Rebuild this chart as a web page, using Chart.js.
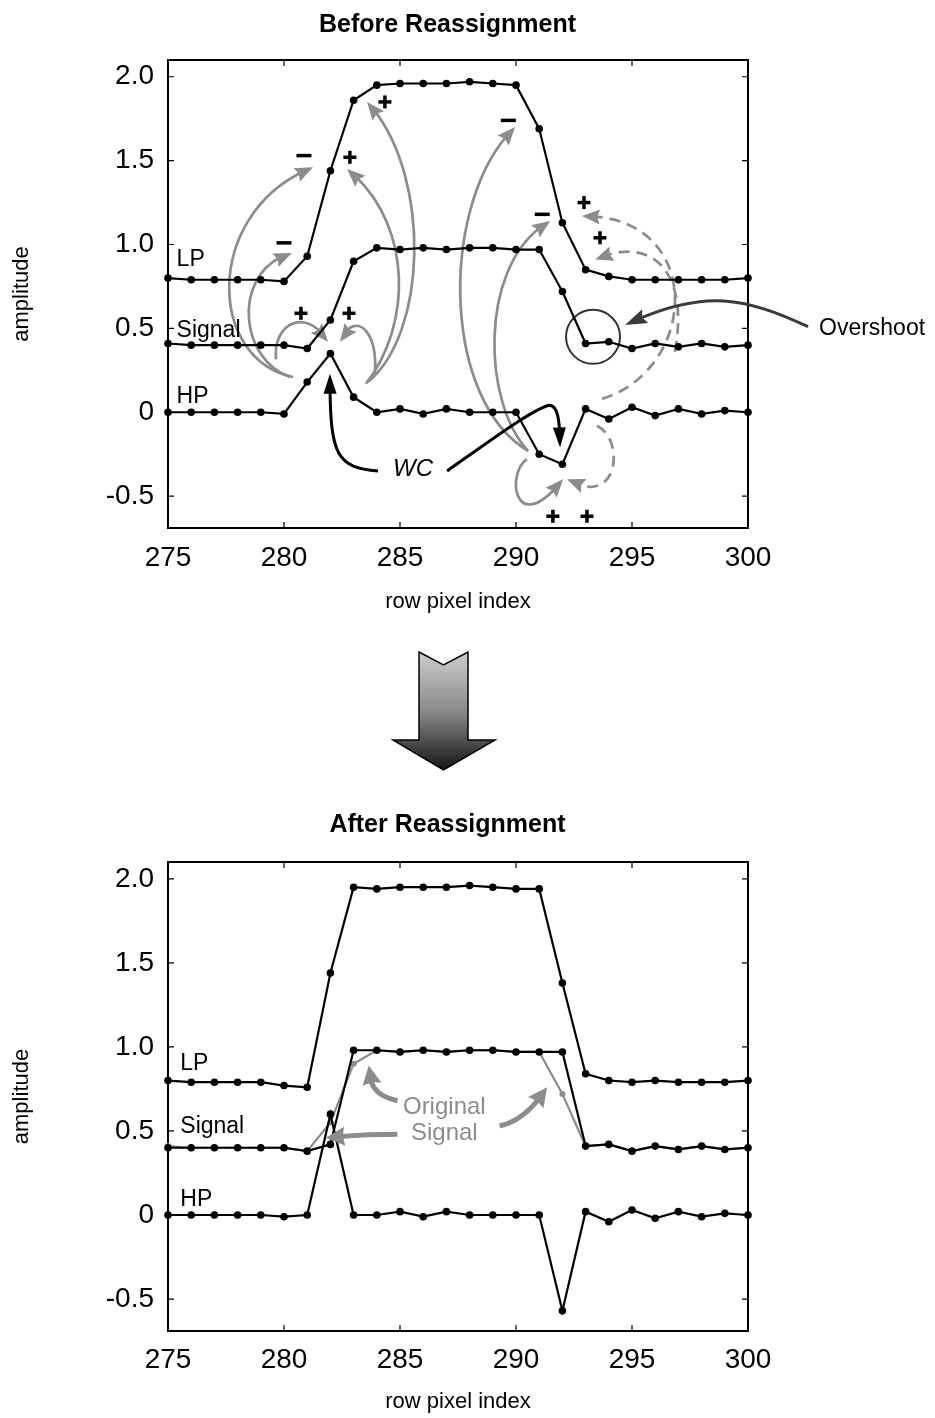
<!DOCTYPE html>
<html>
<head>
<meta charset="utf-8">
<script src="https://cdn.jsdelivr.net/npm/chart.js@4.4.1/dist/chart.umd.min.js"></script>
<style>
  body { margin: 0; background: #fff; }
  #wrap { position: relative; width: 935px; height: 1418px; }
  canvas { position: absolute; left: 0; }
</style>
</head>
<body>
<div id="wrap">
  <canvas id="before" width="935" height="640" style="top:0"></canvas>
  <canvas id="bigArrow" width="935" height="160" style="top:640px"></canvas>
  <canvas id="after" width="935" height="618" style="top:800px"></canvas>
</div>
<script>
// ---- data ----
const rowIndex = [275, 276, 277, 278, 279, 280, 281, 282, 283, 284, 285, 286, 287,
  288, 289, 290, 291, 292, 293, 294, 295, 296, 297, 298, 299, 300];

const beforeLP = [0.80, 0.79, 0.79, 0.79, 0.79, 0.78, 0.93, 1.44, 1.86, 1.95, 1.96, 1.96, 1.96,
  1.97, 1.96, 1.95, 1.69, 1.13, 0.85, 0.81, 0.79, 0.79, 0.79, 0.79, 0.79, 0.80];
const beforeSignal = [0.41, 0.40, 0.40, 0.40, 0.40, 0.40, 0.38, 0.55, 0.90, 0.98, 0.97, 0.98, 0.97,
  0.98, 0.98, 0.97, 0.97, 0.72, 0.41, 0.42, 0.38, 0.41, 0.39, 0.41, 0.39, 0.40];
const beforeHP = [0, 0, 0, 0, 0, -0.01, 0.18, 0.35, 0.09, 0, 0.02, -0.01, 0.02,
  0, 0, 0, -0.25, -0.31, 0.02, -0.04, 0.03, -0.02, 0.02, -0.01, 0.01, 0];

const afterLP = [0.80, 0.79, 0.79, 0.79, 0.79, 0.77, 0.76, 1.44, 1.95, 1.94, 1.95, 1.95, 1.95,
  1.96, 1.95, 1.94, 1.94, 1.38, 0.84, 0.80, 0.79, 0.80, 0.79, 0.79, 0.79, 0.80];
const afterSignal = [0.40, 0.40, 0.40, 0.40, 0.40, 0.40, 0.38, 0.42, 0.98, 0.98, 0.97, 0.98, 0.97,
  0.98, 0.98, 0.97, 0.97, 0.97, 0.41, 0.42, 0.38, 0.41, 0.39, 0.41, 0.39, 0.40];
const afterHP = [0, 0, 0, 0, 0, -0.01, 0, 0.60, 0, 0, 0.02, -0.01, 0.02,
  0, 0, 0, 0, -0.57, 0.02, -0.04, 0.03, -0.02, 0.02, -0.01, 0.01, 0];
const originalSignal = beforeSignal;

const xTicks = [275, 280, 285, 290, 295, 300];
const yTicks = [-0.5, 0, 0.5, 1, 1.5, 2];
const yTickLabels = ['-0.5', '0', '0.5', '1.0', '1.5', '2.0'];
const seriesNames = ['LP', 'Signal', 'HP'];

// ---- annotation geometry (data units: row index, amplitude) ----
const beforeLabelPos = [[275.37, 0.92], [275.37, 0.50], [275.37, 0.105]];
const afterLabelPos = [[275.53, 0.914], [275.53, 0.534], [275.53, 0.104]];

const grayArrows = [
  [[280.39, 0.21], [276.59, 0.32], [276.59, 1.21], [281.25, 1.46]],
  [[280.26, 0.21], [278.00, 0.32], [277.75, 0.85], [280.34, 0.95]],
  [[279.66, 0.315], [279.48, 0.52], [280.91, 0.64], [281.90, 0.42]],
  [[283.92, 0.23], [284.05, 0.52], [282.93, 0.60], [282.41, 0.42]],
  [[283.53, 0.17], [285.65, 0.55], [285.43, 1.15], [282.72, 1.45]],
  [[283.62, 0.18], [286.29, 0.49], [286.29, 1.45], [283.58, 1.85]],
  [[290.52, -0.23], [286.72, 0.08], [286.72, 1.27], [289.96, 1.70]],
  [[290.52, -0.23], [288.45, 0.08], [288.45, 0.91], [291.47, 1.14]],
  [[290.47, -0.28], [289.53, -0.37], [289.96, -0.76], [292.03, -0.40]]
];
const dashedArrows = [
  [[293.71, 0.08], [297.93, 0.26], [298.15, 1.18], [292.84, 1.17]],
  [[296.85, 0.36], [297.50, 0.85], [295.78, 1.06], [293.41, 0.91]],
  [[293.49, -0.08], [294.70, -0.16], [294.48, -0.58], [292.20, -0.40]]
];
const wcArrows = [
  [[284.05, -0.35], [282.20, -0.33], [281.98, -0.25], [281.98, 0.23]],
  [[287.03, -0.35], [288.88, -0.17], [290.60, 0.006], [291.38, 0.04],
   [291.72, 0.05], [291.90, -0.01], [291.90, -0.21]]
];
const overshootArrow = [[302.59, 0.51], [299.66, 0.70], [297.93, 0.73], [294.70, 0.52]];
const overshootCircle = [293.32, 0.45];
const overshootText = [303.06, 0.51];
const wcText = [285.56, -0.33];
const plusMarks = [[284.35, 1.85], [282.84, 1.52], [280.73, 0.59], [282.80, 0.59],
  [292.93, 1.25], [293.62, 1.04], [291.59, -0.62], [293.06, -0.62]];
const minusMarks = [[280.86, 1.53], [280.00, 1.01], [289.67, 1.74], [291.13, 1.18]];

const thickArrows = [
  [[284.89, 0.68], [283.95, 0.71], [283.65, 0.77], [283.65, 0.89]],
  [[284.89, 0.48], [283.73, 0.48], [282.66, 0.47], [281.80, 0.46]],
  [[289.29, 0.53], [289.97, 0.55], [290.70, 0.62], [291.34, 0.76]]
];
const originalTextPos = [[286.91, 0.653], [286.91, 0.499]];

const FONT = '"Liberation Sans", Arial, Helvetica, sans-serif';
const GRAY = '#8c8c8c';

// ---- drawing helpers ----
function toPx(chart, p) {
  return [chart.scales.x.getPixelForValue(p[0]), chart.scales.y.getPixelForValue(p[1])];
}
function lerp(a, b, t) { return [a[0] + (b[0] - a[0]) * t, a[1] + (b[1] - a[1]) * t]; }
function cubicAt(a, b, c, d, t) {
  const u = 1 - t;
  return [u * u * u * a[0] + 3 * u * u * t * b[0] + 3 * u * t * t * c[0] + t * t * t * d[0],
          u * u * u * a[1] + 3 * u * u * t * b[1] + 3 * u * t * t * c[1] + t * t * t * d[1]];
}
function splitLeft(a, b, c, d, t) {
  const ab = lerp(a, b, t), bc = lerp(b, c, t), cd = lerp(c, d, t);
  const abc = lerp(ab, bc, t), bcd = lerp(bc, cd, t);
  return [a, ab, abc, lerp(abc, bcd, t)];
}
function dist(p, q) { return Math.hypot(p[0] - q[0], p[1] - q[1]); }
function tAtDist(a, b, c, d, len) {
  let t = 1;
  while (t > 0 && dist(cubicAt(a, b, c, d, t), d) < len) t -= 0.002;
  return t;
}

function drawHead(ctx, tip, from, len, w, color, notch) {
  const dx = tip[0] - from[0], dy = tip[1] - from[1];
  const L = Math.hypot(dx, dy) || 1;
  const ux = dx / L, uy = dy / L;
  const bx = tip[0] - ux * len, by = tip[1] - uy * len;
  ctx.setLineDash([]);
  ctx.fillStyle = color;
  ctx.beginPath();
  ctx.moveTo(tip[0], tip[1]);
  ctx.lineTo(bx - uy * w / 2, by + ux * w / 2);
  ctx.lineTo(bx + ux * len * notch, by + uy * len * notch);
  ctx.lineTo(bx + uy * w / 2, by - ux * w / 2);
  ctx.closePath();
  ctx.fill();
}

function drawArrow(chart, pts, st) {
  const ctx = chart.ctx;
  const p = pts.map((q) => toPx(chart, q));
  const n = (p.length - 1) / 3;
  ctx.save();
  ctx.strokeStyle = st.color;
  ctx.lineWidth = st.width;
  ctx.lineCap = 'butt';
  ctx.setLineDash(st.dash || []);
  ctx.beginPath();
  ctx.moveTo(p[0][0], p[0][1]);
  let headFrom = null, tip = null;
  for (let i = 0; i < n; i++) {
    let a = p[3 * i], b = p[3 * i + 1], c = p[3 * i + 2], d = p[3 * i + 3];
    if (i === n - 1 && st.head) {
      tip = d;
      headFrom = cubicAt(a, b, c, d, tAtDist(a, b, c, d, st.head));
      [a, b, c, d] = splitLeft(a, b, c, d, tAtDist(a, b, c, d, st.head * 0.6));
    }
    ctx.bezierCurveTo(b[0], b[1], c[0], c[1], d[0], d[1]);
  }
  ctx.stroke();
  if (st.head) drawHead(ctx, tip, headFrom, st.head, st.headW, st.color, st.notch || 0);
  ctx.restore();
}

function drawText(chart, text, pos, size, opts) {
  const ctx = chart.ctx;
  const [x, y] = toPx(chart, pos);
  ctx.save();
  ctx.font = (opts.style || '') + ' ' + size + 'px ' + FONT;
  ctx.textAlign = opts.align || 'left';
  ctx.textBaseline = 'alphabetic';
  ctx.fillStyle = opts.color || '#000';
  ctx.fillText(text, x, y + 0.358 * size);
  ctx.restore();
}

function drawSign(chart, pos, plus) {
  const ctx = chart.ctx;
  const [x, y] = toPx(chart, pos);
  ctx.save();
  ctx.fillStyle = '#000';
  if (plus) {
    ctx.fillRect(x - 6.5, y - 1.75, 13, 3.5);
    ctx.fillRect(x - 1.75, y - 6.5, 3.5, 13);
  } else {
    ctx.fillRect(x - 7.5, y - 1.75, 15, 3.5);
  }
  ctx.restore();
}

const framePlugin = {
  id: 'frame',
  beforeDatasetsDraw(chart) {
    const { ctx, chartArea: a, scales } = chart;
    ctx.save();
    ctx.strokeStyle = '#000';
    ctx.lineWidth = 1.2;
    ctx.beginPath();
    xTicks.forEach((v) => {
      const px = scales.x.getPixelForValue(v);
      ctx.moveTo(px, a.bottom); ctx.lineTo(px, a.bottom - 6);
      ctx.moveTo(px, a.top); ctx.lineTo(px, a.top + 6);
    });
    yTicks.forEach((v) => {
      const py = scales.y.getPixelForValue(v);
      ctx.moveTo(a.left, py); ctx.lineTo(a.left + 6, py);
      ctx.moveTo(a.right, py); ctx.lineTo(a.right - 6, py);
    });
    ctx.stroke();
    ctx.lineWidth = 2;
    ctx.strokeRect(a.left, a.top, a.right - a.left, a.bottom - a.top);
    ctx.restore();
  }
};

function titlePlugin(text, baseline) {
  return {
    id: 'figTitle',
    afterDraw(chart) {
      const ctx = chart.ctx;
      ctx.save();
      ctx.font = 'bold 25px ' + FONT;
      ctx.textAlign = 'center';
      ctx.fillStyle = '#000';
      ctx.fillText(text, 447.5, baseline);
      ctx.restore();
    }
  };
}

const beforeNotes = {
  id: 'beforeNotes',
  beforeDatasetsDraw(chart) {
    grayArrows.forEach((a) => drawArrow(chart, a, { color: GRAY, width: 2.7, head: 18, headW: 15, notch: 0.15 }));
    dashedArrows.forEach((a) => drawArrow(chart, a, { color: GRAY, width: 2.7, dash: [11, 7], head: 18, headW: 15, notch: 0.15 }));
    wcArrows.forEach((a) => drawArrow(chart, a, { color: '#000', width: 3, head: 20, headW: 13, notch: 0 }));
    drawArrow(chart, overshootArrow, { color: '#3a3a3a', width: 3, head: 22, headW: 15, notch: 0.15 });
    const ctx = chart.ctx;
    const [cx, cy] = toPx(chart, overshootCircle);
    ctx.save();
    ctx.strokeStyle = '#333';
    ctx.lineWidth = 2;
    ctx.beginPath();
    ctx.arc(cx, cy, 27, 0, Math.PI * 2);
    ctx.stroke();
    ctx.restore();
  },
  afterDatasetsDraw(chart) {
    seriesNames.forEach((s, i) => drawText(chart, s, beforeLabelPos[i], 23, {}));
    drawText(chart, 'WC', wcText, 24, { style: 'italic', align: 'center' });
    drawText(chart, 'Overshoot', overshootText, 23, {});
    plusMarks.forEach((p) => drawSign(chart, p, true));
    minusMarks.forEach((p) => drawSign(chart, p, false));
  }
};

const afterNotes = {
  id: 'afterNotes',
  afterDatasetsDraw(chart) {
    seriesNames.forEach((s, i) => drawText(chart, s, afterLabelPos[i], 23, {}));
    thickArrows.forEach((a) => drawArrow(chart, a, { color: GRAY, width: 5, head: 19, headW: 19, notch: 0.1 }));
    drawText(chart, 'Original', originalTextPos[0], 24, { align: 'center', color: GRAY });
    drawText(chart, 'Signal', originalTextPos[1], 24, { align: 'center', color: GRAY });
  }
};

function series(vals, color, order, radius) {
  return {
    data: rowIndex.map((x, i) => ({ x, y: vals[i] })),
    borderColor: color,
    backgroundColor: color,
    borderWidth: 2.2,
    pointRadius: radius,
    pointHoverRadius: radius,
    pointBackgroundColor: color,
    pointBorderWidth: 0,
    tension: 0,
    clip: false,
    order
  };
}

function makeChart(id, datasets, geo, plugins) {
  const font = { family: FONT, size: 28 };
  return new Chart(document.getElementById(id), {
    type: 'line',
    data: { datasets },
    options: {
      responsive: false,
      animation: false,
      events: [],
      layout: { padding: { left: 0, right: 187, top: geo.top, bottom: 0 } },
      plugins: { legend: { display: false }, tooltip: { enabled: false } },
      scales: {
        x: {
          type: 'linear',
          min: 275,
          max: 300,
          afterBuildTicks: (s) => { s.ticks = xTicks.map((v) => ({ value: v })); },
          afterFit: (s) => { s.height = geo.xHeight; },
          grid: { display: false },
          border: { display: false },
          ticks: { font, color: '#000', padding: geo.tickPad, maxRotation: 0, autoSkip: false,
            callback: (v) => String(v) },
          title: { display: true, text: 'row pixel index', color: '#000',
            font: { family: FONT, size: 22 }, padding: { top: 0, bottom: geo.titlePad } }
        },
        y: {
          min: -0.69,
          max: 2.1,
          afterBuildTicks: (s) => { s.ticks = yTicks.map((v) => ({ value: v })); },
          afterFit: (s) => { s.width = 168; },
          grid: { display: false },
          border: { display: false },
          ticks: { font, color: '#000', padding: 6, autoSkip: false,
            callback: (v) => yTickLabels[yTicks.indexOf(v)] },
          title: { display: true, text: 'amplitude', color: '#000',
            font: { family: FONT, size: 22 }, padding: { top: 9, bottom: 0 } }
        }
      }
    },
    plugins: [framePlugin].concat(plugins)
  });
}

makeChart('before', [
  series(beforeLP, '#000', 0, 3.8),
  series(beforeSignal, '#000', 0, 3.8),
  series(beforeHP, '#000', 0, 3.8)
], { top: 60, xHeight: 112, tickPad: 5, titlePad: 25 },
[beforeNotes, titlePlugin('Before Reassignment', 31.5)]);

makeChart('after', [
  series(afterLP, '#000', 0, 3.8),
  series(afterSignal, '#000', 0, 3.8),
  series(afterHP, '#000', 0, 3.8),
  series(originalSignal, GRAY, 1, 3)
], { top: 62, xHeight: 87, tickPad: 4, titlePad: 3 },
[afterNotes, titlePlugin('After Reassignment', 32)]);

// big block arrow between the two panels
(function () {
  const ctx = document.getElementById('bigArrow').getContext('2d');
  const g = ctx.createLinearGradient(0, 12, 0, 130);
  g.addColorStop(0, '#cdcdcd');
  g.addColorStop(0.5, '#8a8a8a');
  g.addColorStop(1, '#151515');
  ctx.beginPath();
  ctx.moveTo(419, 12);
  ctx.lineTo(443.5, 25);
  ctx.lineTo(468, 12);
  ctx.lineTo(468, 100);
  ctx.lineTo(495, 100);
  ctx.lineTo(443.5, 130);
  ctx.lineTo(393, 100);
  ctx.lineTo(419, 100);
  ctx.closePath();
  ctx.fillStyle = g;
  ctx.fill();
  ctx.lineWidth = 1.5;
  ctx.strokeStyle = '#000';
  ctx.stroke();
})();
</script>
</body>
</html>
